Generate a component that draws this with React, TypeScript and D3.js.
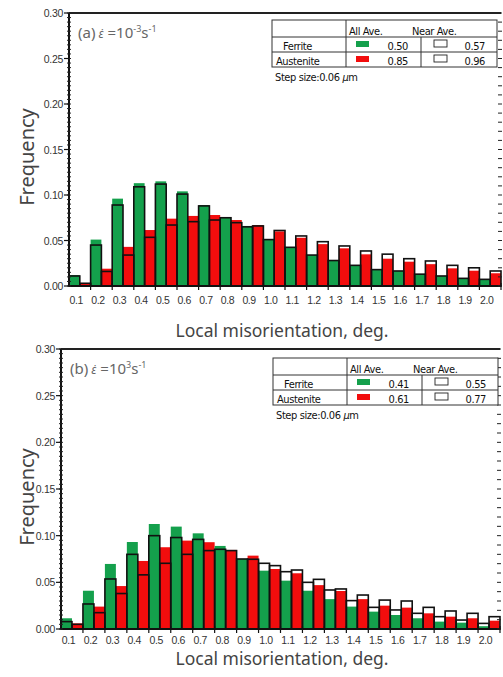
import React from "react";
import * as d3 from "d3";

const categories = ["0.1","0.2","0.3","0.4","0.5","0.6","0.7","0.8","0.9","1.0","1.1","1.2","1.3","1.4","1.5","1.6","1.7","1.8","1.9","2.0"];
const yTicks = [0, 0.05, 0.1, 0.15, 0.2, 0.25, 0.3];

const ferriteAllA = [0.012,0.051,0.096,0.113,0.115,0.104,0.089,0.075,0.066,0.051,0.0425,0.034,0.028,0.0227,0.018,0.0165,0.013,0.011,0.0084,0.0073];
const ferriteNearA = [0.011,0.045,0.089,0.109,0.112,0.101,0.088,0.075,0.065,0.051,0.0425,0.034,0.028,0.0227,0.018,0.0165,0.013,0.011,0.0084,0.0073];
const austeniteAllA = [0.003,0.019,0.043,0.0615,0.074,0.077,0.078,0.0725,0.067,0.060,0.053,0.046,0.0414,0.0348,0.030,0.0267,0.024,0.0194,0.0168,0.014];
const austeniteNearA = [0.003,0.016,0.034,0.0535,0.067,0.0707,0.0725,0.0696,0.066,0.061,0.055,0.0487,0.044,0.0385,0.035,0.030,0.0275,0.0227,0.020,0.0165];

const ferriteAllB = [0.0115,0.041,0.0697,0.0932,0.1125,0.1097,0.1025,0.089,0.075,0.0625,0.0518,0.041,0.032,0.024,0.0186,0.015,0.0115,0.0079,0.0068,0.003];
const ferriteNearB = [0.0079,0.0268,0.0536,0.080,0.100,0.098,0.096,0.0854,0.075,0.0704,0.0614,0.050,0.0418,0.0304,0.0232,0.0204,0.0168,0.0132,0.0096,0.006];
const austeniteAllB = [0.006,0.024,0.046,0.0729,0.0876,0.0947,0.093,0.0847,0.0786,0.0643,0.0597,0.047,0.0407,0.032,0.025,0.0229,0.0168,0.0132,0.0115,0.0089];
const austeniteNearB = [0.005,0.0175,0.038,0.058,0.0704,0.080,0.084,0.084,0.0747,0.0679,0.0632,0.0532,0.0429,0.0364,0.031,0.030,0.0232,0.0193,0.0168,0.0132];

const legendA = { ferriteAll: "0.50", ferriteNear: "0.57", austeniteAll: "0.85", austeniteNear: "0.96" };
const legendB = { ferriteAll: "0.41", ferriteNear: "0.55", austeniteAll: "0.61", austeniteNear: "0.77" };

const GREEN = "#14a04c";
const RED = "#f20d0d";
const NARROW = "'DejaVu Sans Condensed', 'Liberation Sans', sans-serif";
const SANS = "'Liberation Sans', Arial, sans-serif";
const TITLE = "'Noto Sans', 'Open Sans', sans-serif";

type PanelProps = {
  left: number; right: number; top: number; bottom: number;
  fAll: number[]; fNear: number[]; aAll: number[]; aNear: number[];
  label: string; exp: string; legend: typeof legendA; lx: number; ly: number;
  yLabelY: number; tickDy: number; titleDy: number;
};

function Panel(p: PanelProps) {
  const x = d3.scaleBand<string>().domain(categories).range([p.left, p.right]).padding(0);
  const sub = d3.scaleBand<string>().domain(["f", "a"]).range([0, x.bandwidth()]).padding(0);
  const y = d3.scaleLinear().domain([0, 0.3]).range([p.bottom, p.top]);
  const minorL = d3.range(0, 0.3001, 0.005);
  const minorR = d3.range(0, 0.3001, 0.01);
  const bars = categories.map((c, i) => [
    { key: "f", all: p.fAll[i], near: p.fNear[i], color: GREEN, c },
    { key: "a", all: p.aAll[i], near: p.aNear[i], color: RED, c },
  ]).flat();
  const bw = sub.bandwidth();
  const lx = p.lx, ly = p.ly;
  const lw = 225, lh = 47;
  return (
    <g>
      {bars.map((b, i) => (
        <rect key={"c" + i} x={(x(b.c) as number) + (sub(b.key) as number)} y={y(b.all)} width={bw} height={p.bottom - y(b.all)} fill={b.color} />
      ))}
      {bars.map((b, i) => (
        <rect key={"o" + i} x={(x(b.c) as number) + (sub(b.key) as number)} y={y(b.near)} width={bw} height={p.bottom - y(b.near)} fill="none" stroke="#111" strokeWidth={1.6} />
      ))}
      <line x1={p.left} x2={p.right} y1={p.top} y2={p.top} stroke="#222" strokeWidth={2} />
      <line x1={p.left} x2={p.left} y1={p.top} y2={p.bottom} stroke="#111" strokeWidth={2} />
      <line x1={p.left} x2={p.right} y1={p.bottom} y2={p.bottom} stroke="#111" strokeWidth={1.8} />
      {minorL.map((v, i) => (
        <line key={"ml" + i} x1={p.left - 2} x2={p.left + 2} y1={y(v)} y2={y(v)} stroke="#222" strokeWidth={1} />
      ))}
      {minorR.map((v, i) => (
        <line key={"mr" + i} x1={p.right - 3} x2={p.right + 1} y1={y(v)} y2={y(v)} stroke="#222" strokeWidth={1} />
      ))}
      {yTicks.map((v) => (
        <g key={"yt" + v}>
          <line x1={p.left - 5} x2={p.left} y1={y(v)} y2={y(v)} stroke="#111" strokeWidth={1.2} />
          <text x={p.left - 6} y={y(v) + 4} textAnchor="end" fontFamily={SANS} fontSize={10.5} fill="#333" letterSpacing={-0.3}>{v.toFixed(2)}</text>
        </g>
      ))}
      {categories.map((c) => (
        <g key={"xt" + c}>
          <line x1={(x(c) as number) + x.bandwidth()} x2={(x(c) as number) + x.bandwidth()} y1={p.bottom - 3} y2={p.bottom + 4} stroke="#111" strokeWidth={1.2} />
          <text x={(x(c) as number) + x.bandwidth() / 2 - 3.5} y={p.bottom + p.tickDy} textAnchor="middle" fontFamily={SANS} fontSize={10.5} fill="#333" letterSpacing={-0.4}>{c}</text>
        </g>
      ))}
      <text transform={`translate(34,${p.yLabelY}) rotate(-90)`} textAnchor="middle" fontFamily={TITLE} fontSize={20} fill="#444">Frequency</text>
      <text x={282} y={p.bottom + p.titleDy} textAnchor="middle" fontFamily={TITLE} fontSize={17.5} fill="#444">Local misorientation, deg.</text>
      <text x={p.left + 9} y={p.top + 25} fontFamily={TITLE} fontSize={15} fill="#666">
        {p.label}
        <tspan fontStyle="italic" fontSize={12}> {"\u03B5\u0307"}</tspan>
        <tspan> =10</tspan>
        <tspan fontSize={9} dy={-6}>{p.exp}</tspan>
        <tspan dy={6}>s</tspan>
        <tspan fontSize={9} dy={-6}>-1</tspan>
      </text>
      <rect x={lx} y={ly} width={lw} height={lh} fill="white" stroke="#333" strokeWidth={1} />
      <line x1={lx} x2={lx + lw} y1={ly + 17} y2={ly + 17} stroke="#333" strokeWidth={1} />
      <line x1={lx} x2={lx + lw} y1={ly + 32} y2={ly + 32} stroke="#333" strokeWidth={1} />
      <line x1={lx + 74} x2={lx + 74} y1={ly} y2={ly + lh} stroke="#333" strokeWidth={1} />
      <line x1={lx + 149} x2={lx + 149} y1={ly + 17} y2={ly + lh} stroke="#333" strokeWidth={1} />
      <g fontFamily={NARROW} fontSize={11} fill="#111" letterSpacing={-0.4}>
        <text x={lx + 77} y={ly + 15}>All  Ave.</text>
        <text x={lx + 140} y={ly + 15}>Near Ave.</text>
        <text x={lx + 11} y={ly + 30}>Ferrite</text>
        <text x={lx + 4} y={ly + 45}>Austenite</text>
        <text x={lx + 136} y={ly + 30} textAnchor="end">{p.legend.ferriteAll}</text>
        <text x={lx + 136} y={ly + 45} textAnchor="end">{p.legend.austeniteAll}</text>
        <text x={lx + 213} y={ly + 30} textAnchor="end">{p.legend.ferriteNear}</text>
        <text x={lx + 213} y={ly + 45} textAnchor="end">{p.legend.austeniteNear}</text>
        <text x={lx + 3} y={ly + 61}>Step size:0.06 <tspan fontStyle="italic">μ</tspan>m</text>
      </g>
      <rect x={lx + 84} y={ly + 21} width={13} height={6} fill={GREEN} />
      <rect x={lx + 84} y={ly + 36} width={13} height={6} fill={RED} />
      <rect x={lx + 162} y={ly + 20} width={13} height={7} fill="white" stroke="#222" strokeWidth={0.9} />
      <rect x={lx + 162} y={ly + 35} width={13} height={7} fill="white" stroke="#222" strokeWidth={0.9} />
    </g>
  );
}

export default function App() {
  return (
    <svg width={503} height={677} style={{ position: "absolute", left: 0, top: 0, background: "white" }}>
      <Panel left={69} right={501} top={13} bottom={286} fAll={ferriteAllA} fNear={ferriteNearA} aAll={austeniteAllA} aNear={austeniteNearA}
        label="(a)" exp="-3" legend={legendA} lx={272} ly={20} yLabelY={157} tickDy={18} titleDy={51} />
      <Panel left={61} right={500} top={349} bottom={629} fAll={ferriteAllB} fNear={ferriteNearB} aAll={austeniteAllB} aNear={austeniteNearB}
        label="(b)" exp="3" legend={legendB} lx={273} ly={358} yLabelY={497} tickDy={15} titleDy={36} />
    </svg>
  );
}
